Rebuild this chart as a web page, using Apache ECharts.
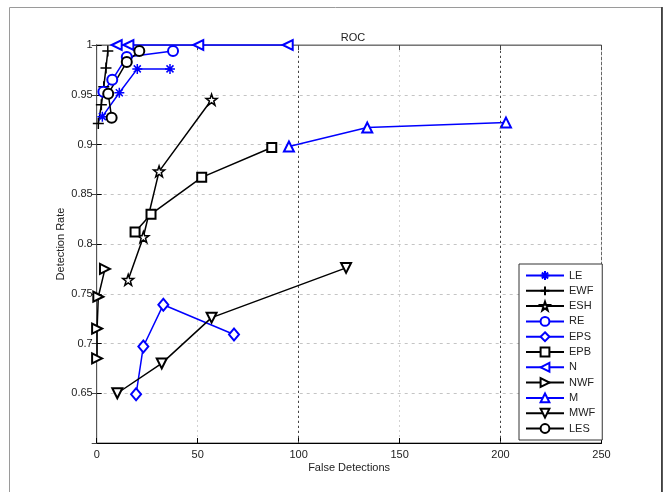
<!DOCTYPE html>
<html>
<head>
<meta charset="utf-8">
<script src="https://cdn.jsdelivr.net/npm/echarts@6/dist/echarts.min.js"></script>
<style>
html,body{margin:0;padding:0;background:#fff;}
#chart{width:664px;height:492px;}
</style>
</head>
<body>
<div id="chart"></div>
<script>
// ---- data (x = false detections, y = detection rate) ----
const seriesNames = ['LE','EWF','ESH','RE','EPS','EPB','N','NWF','M','MWF','LES'];
const LE  = [[2.8,0.928],[11.2,0.952],[20.1,0.976],[36.3,0.976]];
const EWF = [[0.8,0.921],[2.3,0.940],[3.5,0.958],[4.6,0.977],[5.5,0.994]];
const ESH = [[15.6,0.764],[23.1,0.807],[30.9,0.873],[56.9,0.945]];
const RE  = [[3.3,0.953],[7.7,0.965],[14.9,0.988],[37.8,0.994]];
const EPS = [[19.5,0.649],[23.1,0.697],[33.0,0.739],[68.0,0.709]];
const EPB = [[19.0,0.812],[26.9,0.830],[52.0,0.867],[86.7,0.897]];
const N   = [[9.9,1.0],[15.7,1.0],[50.3,1.0],[94.6,1.0]];
const NWF = [[4.1,0.775],[0.8,0.747],[0.2,0.715],[0.2,0.685]];
const M   = [[95.2,0.898],[134.0,0.917],[202.7,0.922]];
const MWF = [[10.2,0.650],[32.2,0.680],[56.9,0.726],[123.5,0.776]];
const LES = [[7.4,0.927],[5.7,0.951],[14.9,0.983],[21.1,0.994]];
const seriesData = [LE,EWF,ESH,RE,EPS,EPB,N,NWF,M,MWF,LES];
const xMin = 0, xMax = 250, xStep = 50;
const yMin = 0.6, yMax = 1, yStep = 0.05;
const darkGridX = [100, 200];
const titleText = 'ROC';
const xName = 'False Detections';
const yName = 'Detection Rate';

// ---- styles ----
const BLUE = '#0000ff', BLACK = '#000000';
function starPath(){
  let p = [];
  for (let k = 0; k < 10; k++) {
    const a = (-90 + k * 36) * Math.PI / 180;
    const r = k % 2 ? 4 : 10;
    p.push((k ? 'L' : 'M') + (10 + r * Math.cos(a)).toFixed(2) + ',' + (10 + r * Math.sin(a)).toFixed(2));
  }
  return 'path://' + p.join('') + 'Z';
}
const styles = {
  LE:  {c: BLUE,  sym: 'path://M5,0L5,10M0,5L10,5M1.5,1.5L8.5,8.5M1.5,8.5L8.5,1.5', size: 10, fill: BLUE},
  EWF: {c: BLACK, sym: 'path://M5,0L5,10M0,5L10,5', size: 11, fill: BLACK},
  ESH: {c: BLACK, sym: starPath(), size: 11, fill: '#fff'},
  RE:  {c: BLUE,  sym: 'emptyCircle', size: 10},
  EPS: {c: BLUE,  sym: 'emptyDiamond', size: [10,12]},
  EPB: {c: BLACK, sym: 'emptyRect', size: 9},
  N:   {c: BLUE,  sym: 'emptyTriangle', size: 10, rot: 90},
  NWF: {c: BLACK, sym: 'emptyTriangle', size: 10, rot: -90},
  M:   {c: BLUE,  sym: 'emptyTriangle', size: 10, rot: 0},
  MWF: {c: BLACK, sym: 'emptyTriangle', size: 10, rot: 180},
  LES: {c: BLACK, sym: 'emptyCircle', size: 10}
};

const FONT = 'Liberation Sans';
const chart = echarts.init(document.getElementById('chart'), null, {renderer: 'canvas'});

const series = seriesNames.map((name, i) => {
  const s = styles[name];
  return {
    name: name,
    type: 'line',
    data: seriesData[i],
    symbol: s.sym,
    symbolSize: s.size,
    symbolRotate: s.rot || 0,
    showAllSymbol: true,
    clip: false,
    lineStyle: {color: s.c, width: 1.5},
    itemStyle: {color: s.fill || s.c, borderColor: s.c, borderWidth: 1.5},
    emphasis: {disabled: true},
    animation: false,
    z: 3
  };
});
// darker dotted grid lines at x = 100 and 200 (as in the reference)
series.push({
  name: '_grid', type: 'line', data: [], silent: true, animation: false,
  markLine: {
    silent: true, symbol: ['none', 'none'], animation: false,
    label: {show: false},
    lineStyle: {color: '#444', type: [2, 3], width: 1},
    emphasis: {disabled: true},
    data: darkGridX.map(v => ({xAxis: v}))
  },
  z: 1
});

const tickLabel = {color: '#222', fontSize: 11, fontFamily: FONT};
const option = {
  animation: false,
  backgroundColor: '#fff',
  title: {
    text: titleText, left: 348, top: 27, textAlign: 'center',
    textStyle: {fontSize: 11, fontWeight: 'normal', color: '#222', fontFamily: FONT}
  },
  grid: {left: 96.7, right: 62.5, top: 45, bottom: 49, show: true, borderColor: '#666', borderWidth: 1},
  legend: {
    orient: 'vertical', left: 519, top: 264,
    data: seriesNames,
    itemWidth: 38, itemHeight: 11, itemGap: 4.3, itemTextGap: 2,
    padding: [6, 7, 6, 6],
    borderColor: '#333', borderWidth: 1, backgroundColor: '#fff',
    textStyle: {fontSize: 11, color: '#222', fontFamily: FONT, lineHeight: 11},
    selectedMode: false, z: 10
  },
  xAxis: [{
    type: 'value', min: xMin, max: xMax, interval: xStep,
    name: xName, nameLocation: 'middle', nameGap: 19, nameMoveOverlap: false,
    nameTextStyle: {fontSize: 11, color: '#222', fontFamily: FONT},
    axisLine: {lineStyle: {color: '#000', width: 1}},
    axisTick: {inside: true, length: 5, lineStyle: {color: '#000'}},
    axisLabel: Object.assign({margin: 6}, tickLabel),
    splitLine: {show: true, lineStyle: {color: '#d2d2d2', type: [2,3], width: 1}}
  }, {
    type: 'value', min: xMin, max: xMax, interval: xStep, position: 'top',
    axisLine: {show: true, lineStyle: {color: '#777'}},
    axisTick: {inside: true, length: 5, lineStyle: {color: '#444'}},
    axisLabel: {show: false}, splitLine: {show: false}
  }],
  yAxis: [{
    type: 'value', min: yMin, max: yMax, interval: yStep,
    name: yName, nameLocation: 'middle', nameGap: 30, nameMoveOverlap: false,
    nameTextStyle: {fontSize: 11, color: '#222', fontFamily: FONT},
    axisLine: {lineStyle: {color: '#000', width: 1}},
    axisTick: {inside: true, length: 5, lineStyle: {color: '#000'}},
    axisLabel: Object.assign({margin: 4, showMinLabel: false, formatter: v => String(+v.toFixed(2))}, tickLabel),
    splitLine: {show: true, lineStyle: {color: '#c4c4c4', type: [3,4], width: 1}}
  }, {
    type: 'value', min: yMin, max: yMax, interval: yStep, position: 'right',
    axisLine: {show: true, lineStyle: {color: '#555'}},
    axisTick: {inside: true, length: 5, lineStyle: {color: '#444'}},
    axisLabel: {show: false}, splitLine: {show: false}
  }],
  graphic: [
    {type: 'rect', shape: {x: 9.5, y: 7.5, width: 652, height: 500}, style: {fill: 'none', stroke: '#9a9a9a', lineWidth: 1}, z: 0, silent: true},
    {type: 'line', shape: {x1: 662, y1: 7, x2: 662, y2: 492}, style: {stroke: '#222', lineWidth: 1.5}, z: 0, silent: true}
  ],
  series: series
};
chart.setOption(option);
</script>
</body>
</html>
